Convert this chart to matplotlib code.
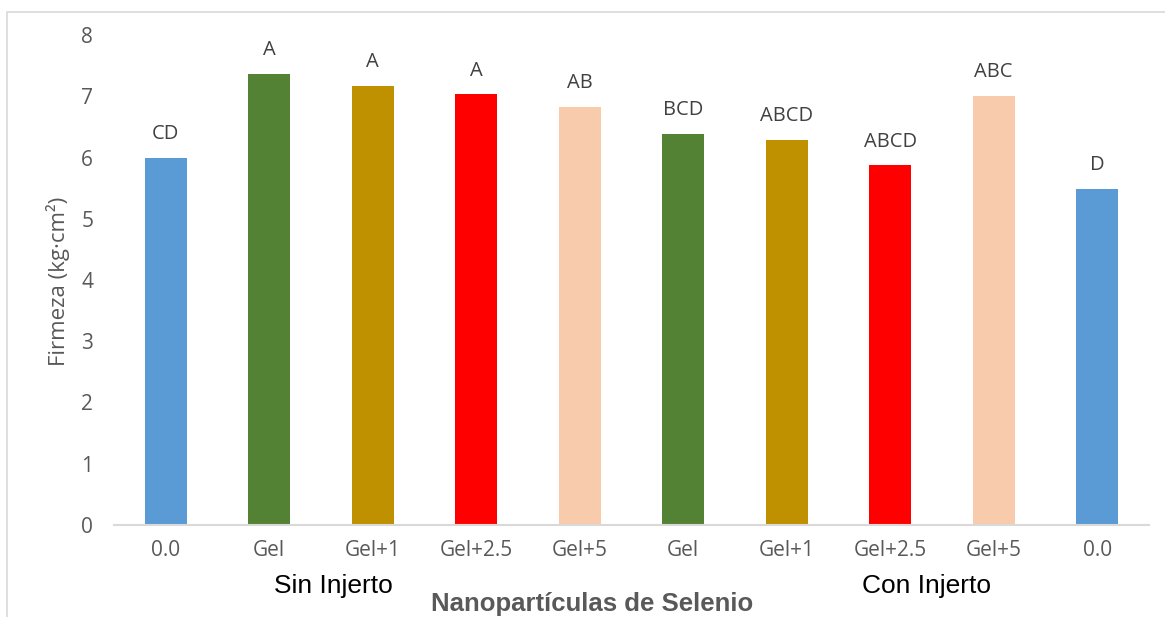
import matplotlib
matplotlib.use("Agg")
import matplotlib.pyplot as plt
from matplotlib.patches import Rectangle

# data
treatments = ['0.0', 'Gel', 'Gel+1', 'Gel+2.5', 'Gel+5', 'Gel', 'Gel+1', 'Gel+2.5', 'Gel+5', '0.0']
firmeza = [6.00, 7.37, 7.17, 7.03, 6.82, 6.39, 6.28, 5.87, 7.00, 5.49]
letters = ['CD', 'A', 'A', 'A', 'AB', 'BCD', 'ABCD', 'ABCD', 'ABC', 'D']
colors = ['#5B9BD5', '#548235', '#BF9000', '#FF0000', '#F8CBAD',
          '#548235', '#BF9000', '#FF0000', '#F8CBAD', '#5B9BD5']
groups = ['Sin Injerto', 'Con Injerto']

W, H = 1165, 617
fig = plt.figure(figsize=(W / 100, H / 100), dpi=100)
ax = fig.add_axes([114 / W, 1 - 525 / H, (1149 - 114) / W, (525 - 35) / H])

x = list(range(len(treatments)))
ax.bar(x, firmeza, width=0.41, color=colors, zorder=2)
for xi, v, lab in zip(x, firmeza, letters):
    ax.text(xi, v + 0.39, lab, ha='center', va='center', fontsize=14.5,
            color='#404040', family='Open Sans')

ax.set_xlim(-0.5, len(treatments) - 0.5)
ax.set_ylim(0, 8)
ax.set_yticks(range(0, 9))
ax.set_xticks(x)
ax.set_xticklabels(treatments)
for lbl in ax.get_xticklabels() + ax.get_yticklabels():
    lbl.set_family('Open Sans')
    lbl.set_fontsize(15)
    lbl.set_color('#595959')
ax.tick_params(axis='both', length=0)
ax.tick_params(axis='x', pad=11)
ax.tick_params(axis='y', pad=15)
for s in ['top', 'right', 'left']:
    ax.spines[s].set_visible(False)
ax.spines['bottom'].set_color('#D9D9D9')
ax.spines['bottom'].set_linewidth(1.5)

ax.set_ylabel('Firmeza (kg·cm²)', fontsize=16, color='#595959',
              family='Open Sans', va='center')
ax.yaxis.set_label_coords((58 - 114) / (1149 - 114), (525 - 281) / (525 - 35))

# group labels and axis title
fig.text(333 / W, 1 - 586 / H, groups[0], ha='center', va='center',
         fontsize=19, family='Liberation Sans', color='black')
fig.text(926 / W, 1 - 586 / H, groups[1], ha='center', va='center',
         fontsize=19, family='Liberation Sans', color='black')
fig.text(592 / W, 1 - 604 / H, 'Nanopartículas de Selenio', ha='center', va='center',
         fontsize=18.5, family='Liberation Sans', weight='bold', color='#595959')

# chart area border
fig.patches.append(Rectangle((7 / W, -0.05), 1.2, 1 - 12 / H + 0.05,
                             transform=fig.transFigure, fill=False,
                             edgecolor='#D9D9D9', linewidth=1.2))

fig.savefig('out.png', dpi=100)
